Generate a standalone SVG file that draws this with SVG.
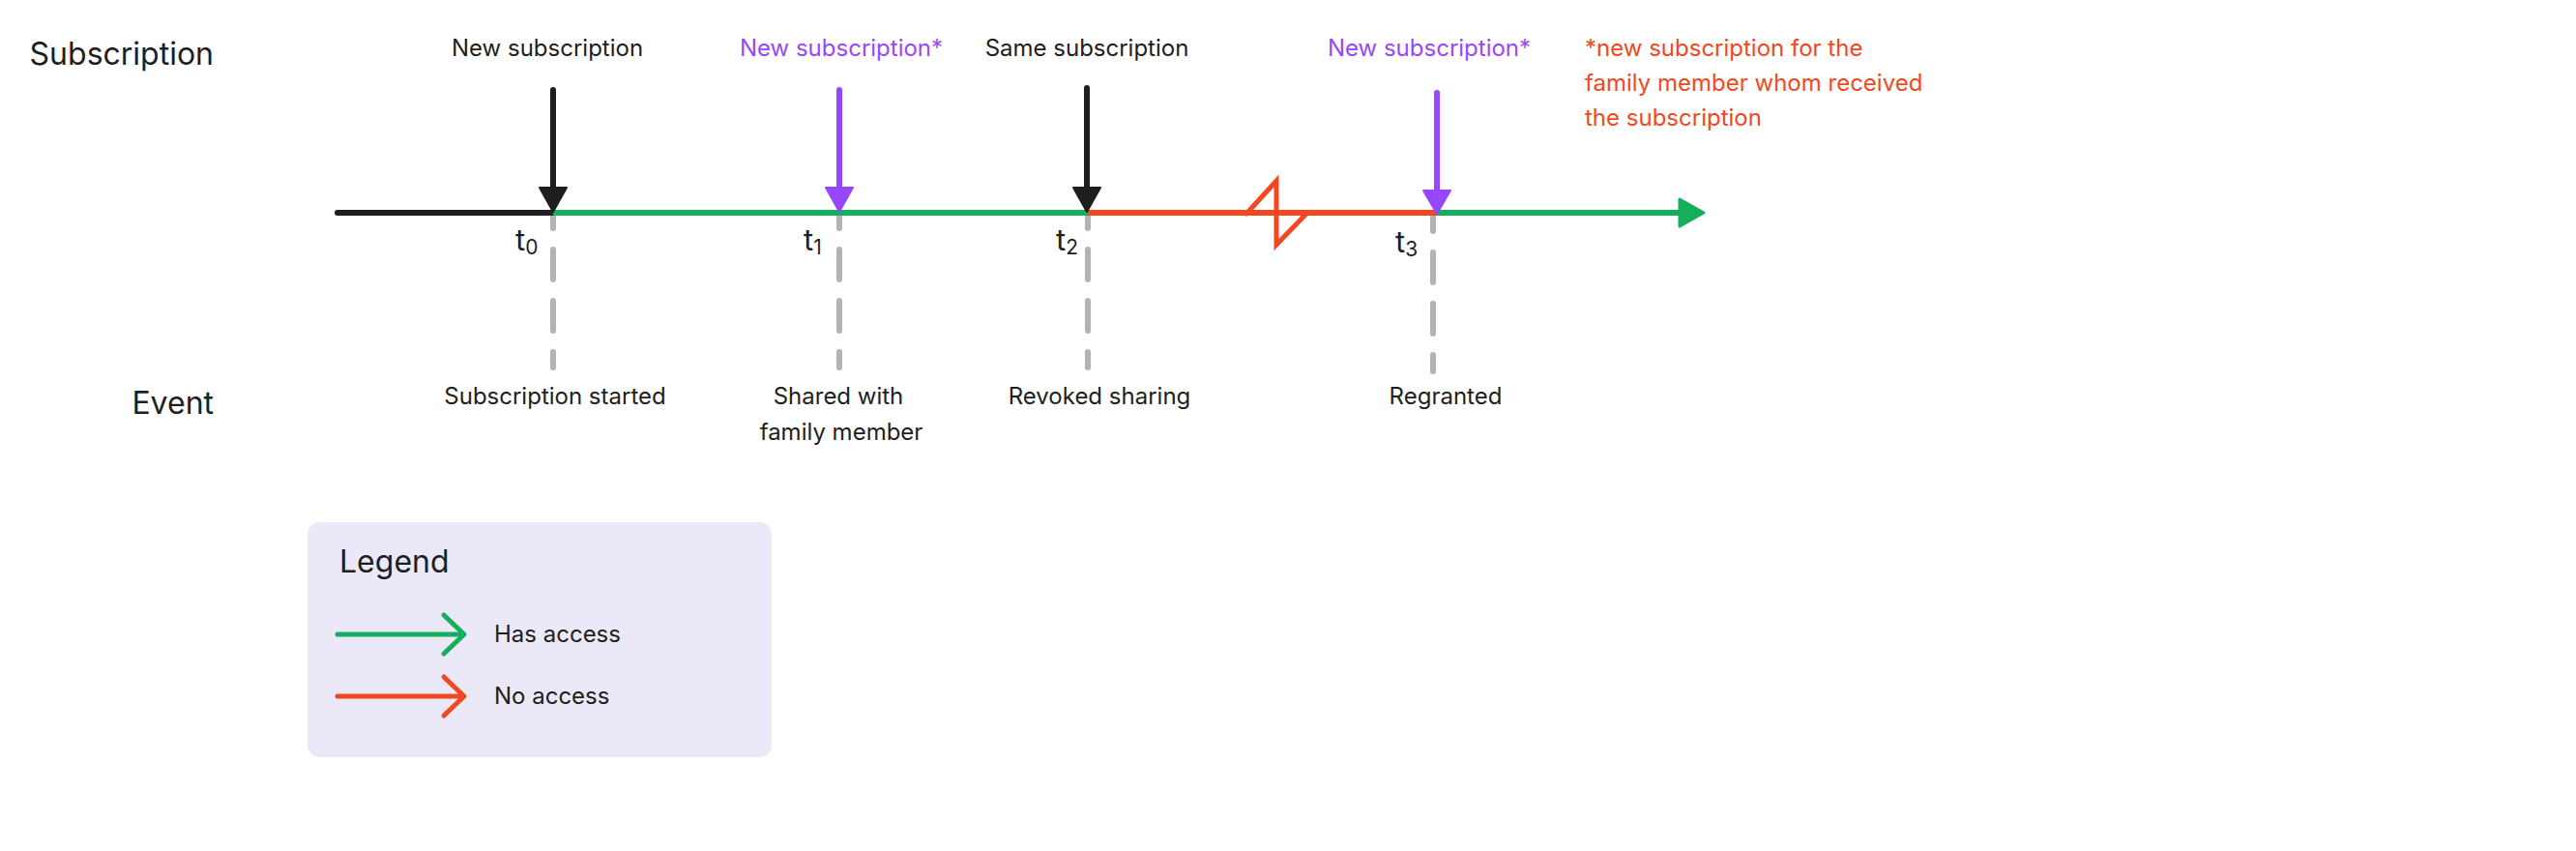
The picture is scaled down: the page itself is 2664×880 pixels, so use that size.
<svg xmlns="http://www.w3.org/2000/svg" width="2664" height="880" viewBox="0 0 2664 880">
<style>
text{font-family:Inter,"Liberation Sans",sans-serif;fill:#1E1E1E}
.h{font-size:32px}
.l{font-size:24px}
.c{text-anchor:middle}
.pur{fill:#9747FF}
.red{fill:#F24822}
.t{font-size:31px}
.sub{font-size:21px}
.dash{stroke:#B3B3B3;stroke-width:6;stroke-linecap:round;stroke-dasharray:31 22;fill:none}
.seg{stroke-width:6;fill:none}
.shaft{stroke-width:6;fill:none}
</style>
<rect width="2664" height="880" fill="#FFFFFF"/>
<g id="row-labels">
<text class="h" x="221" y="67" text-anchor="end">Subscription</text>
<text class="h" x="221" y="428" text-anchor="end">Event</text>
</g>
<g id="guides">
<line class="dash" x1="572" y1="220" x2="572" y2="380" stroke-dashoffset="15"/>
<line class="dash" x1="868" y1="220" x2="868" y2="380" stroke-dashoffset="15"/>
<line class="dash" x1="1125" y1="220" x2="1125" y2="380" stroke-dashoffset="15"/>
<line class="dash" x1="1482" y1="220" x2="1482" y2="384" stroke-dashoffset="12"/>
</g>
<g id="connectors">
<line class="seg" x1="349" y1="220" x2="572" y2="220" stroke="#1E1E1E" stroke-linecap="round"/>
<line class="seg" x1="572" y1="220" x2="1125" y2="220" stroke="#14AE5C"/>
<line class="seg" x1="1125" y1="220" x2="1486" y2="220" stroke="#F24822"/>
<polyline points="1289,221 1320,187 1320,253 1351,221" fill="none" stroke="#F24822" stroke-width="5" stroke-linejoin="miter" stroke-linecap="round"/>
<line class="seg" x1="1486" y1="220" x2="1742" y2="220" stroke="#14AE5C"/>
<polygon points="1737,206 1762,220 1737,234" fill="#14AE5C" stroke="#14AE5C" stroke-width="3" stroke-linejoin="round"/>
<line class="shaft" x1="572" y1="93" x2="572" y2="196" stroke="#1E1E1E" stroke-linecap="round"/>
<polygon points="558,194 586,194 572,219" fill="#1E1E1E" stroke="#1E1E1E" stroke-width="2" stroke-linejoin="round"/>
<line class="shaft" x1="868" y1="93" x2="868" y2="196" stroke="#9747FF" stroke-linecap="round"/>
<polygon points="854,194 882,194 868,219" fill="#9747FF" stroke="#9747FF" stroke-width="2" stroke-linejoin="round"/>
<line class="shaft" x1="1124" y1="91" x2="1124" y2="196" stroke="#1E1E1E" stroke-linecap="round"/>
<polygon points="1110,194 1138,194 1124,219" fill="#1E1E1E" stroke="#1E1E1E" stroke-width="2" stroke-linejoin="round"/>
<line class="shaft" x1="1486" y1="96" x2="1486" y2="199" stroke="#9747FF" stroke-linecap="round"/>
<polygon points="1472,197 1500,197 1486,221" fill="#9747FF" stroke="#9747FF" stroke-width="2" stroke-linejoin="round"/>
</g>
<g id="t0">
<text class="l c" x="566" y="58">New subscription</text>
<text class="t" x="533" y="259">t<tspan class="sub" dy="4">0</tspan></text>
<text class="l c" x="574" y="418">Subscription started</text>
</g>
<g id="t1">
<text class="l c pur" x="870" y="58">New subscription*</text>
<text class="t" x="831" y="259">t<tspan class="sub" dy="4">1</tspan></text>
<text class="l c" x="867" y="418">Shared with</text>
<text class="l c" x="870" y="455">family member</text>
</g>
<g id="t2">
<text class="l c" x="1124" y="58">Same subscription</text>
<text class="t" x="1092" y="259">t<tspan class="sub" dy="4">2</tspan></text>
<text class="l c" x="1137" y="418">Revoked sharing</text>
</g>
<g id="t3">
<text class="l c pur" x="1478" y="58">New subscription*</text>
<text class="t" x="1443" y="261">t<tspan class="sub" dy="4">3</tspan></text>
<text class="l c" x="1495" y="418">Regranted</text>
</g>
<g id="footnote">
<text class="l red" x="1639" y="58">*new subscription for the</text>
<text class="l red" x="1639" y="94">family member whom received</text>
<text class="l red" x="1639" y="130">the subscription</text>
</g>
<g id="legend">
<rect x="318" y="540" width="480" height="243" rx="13" fill="#EBE8F8"/>
<text class="h" x="351" y="592">Legend</text>
<line x1="349" y1="656" x2="478" y2="656" stroke="#14AE5C" stroke-width="5" stroke-linecap="round"/>
<polyline points="459,636 480,656 459,676" fill="none" stroke="#14AE5C" stroke-width="5" stroke-linecap="round" stroke-linejoin="round"/>
<text class="l" x="511" y="664">Has access</text>
<line x1="349" y1="720" x2="478" y2="720" stroke="#F24822" stroke-width="5" stroke-linecap="round"/>
<polyline points="459,700 480,720 459,740" fill="none" stroke="#F24822" stroke-width="5" stroke-linecap="round" stroke-linejoin="round"/>
<text class="l" x="511" y="728">No access</text>
</g>
</svg>
